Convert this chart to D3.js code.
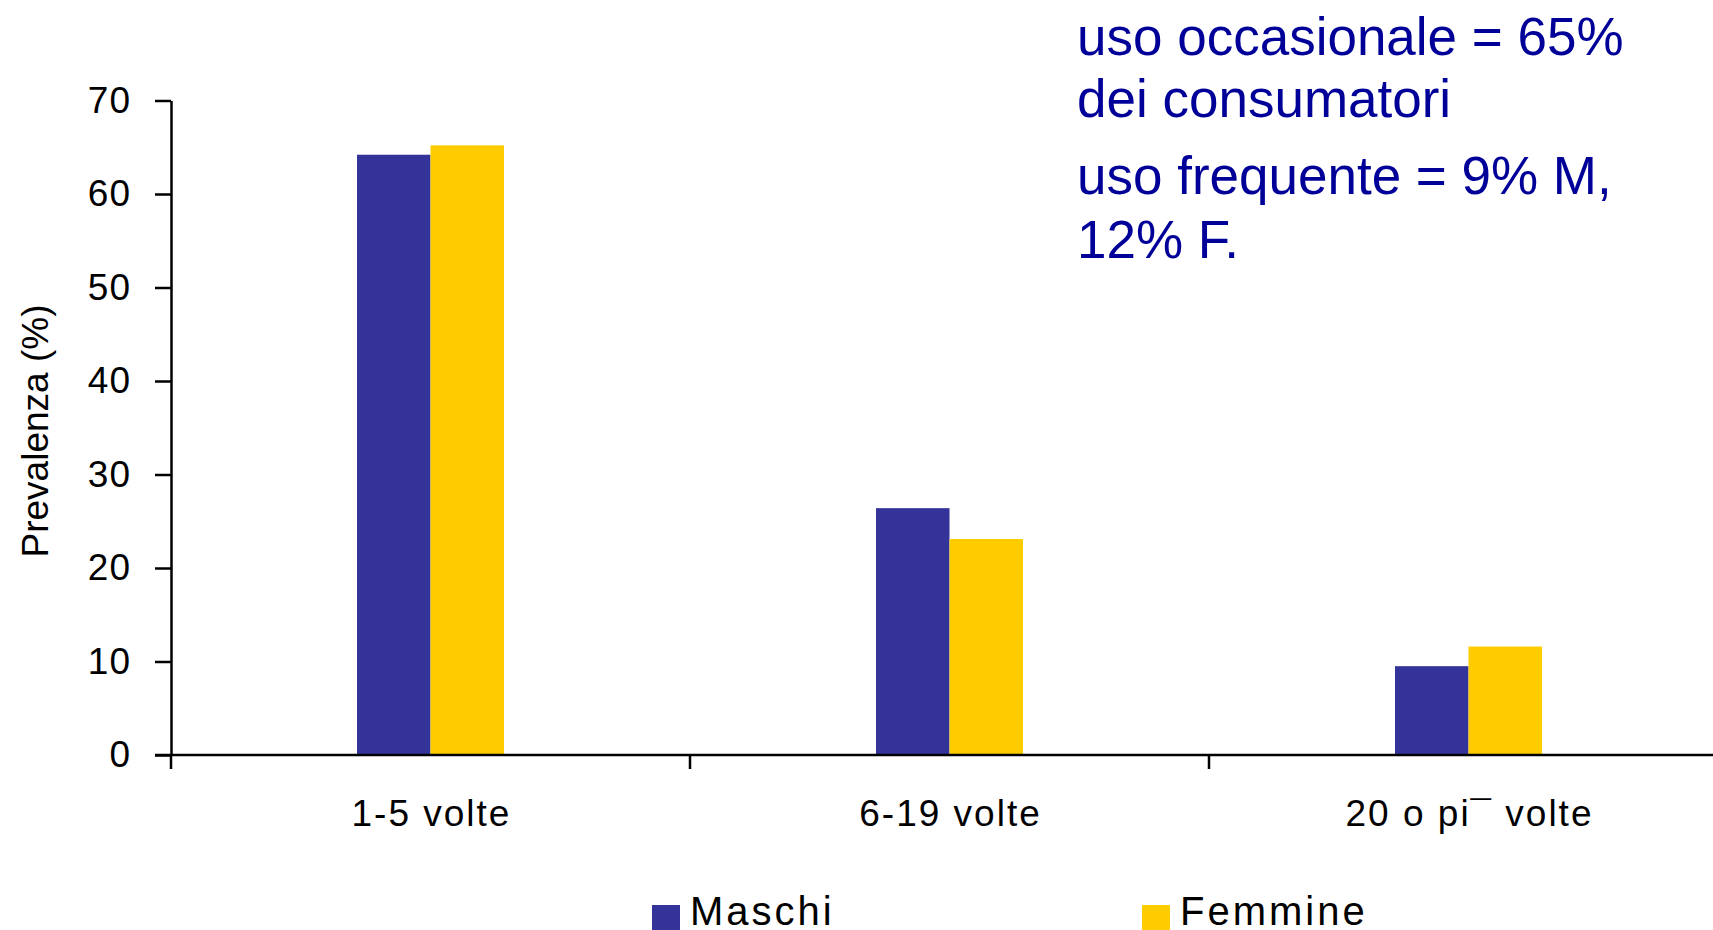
<!DOCTYPE html>
<html>
<head>
<meta charset="utf-8">
<script src="https://cdn.jsdelivr.net/npm/d3@7"></script>
<style>
  body { margin: 0; background: #fff; }
  svg { display: block; font-family: "Liberation Sans", Arial, sans-serif; }
</style>
</head>
<body>
<svg id="chart" width="1713" height="930"></svg>
<script>
// data
const categories = ["1-5 volte", "6-19 volte", "20 o pi\u00AF volte"];
const series = ["Maschi", "Femmine"];
const maschi = [64.2, 26.4, 9.5];
const femmine = [65.2, 23.1, 11.6];
const yTicks = [0, 10, 20, 30, 40, 50, 60, 70];
const notes = ["uso occasionale = 65%", "dei consumatori", "uso frequente = 9% M,", "12% F."];

const colors = { "Maschi": "#333399", "Femmine": "#FFCC00" };
const values = { "Maschi": maschi, "Femmine": femmine };

const svg = d3.select("#chart");

const plotLeft = 171, plotBottom = 755, plotTop = 100.5, bandW = 519;
const barW = 73.5;

const x = d3.scaleBand()
  .domain(categories)
  .range([plotLeft, plotLeft + bandW * categories.length]);

const xs = d3.scaleBand()
  .domain(series)
  .range([x.bandwidth() / 2 - barW, x.bandwidth() / 2 + barW]);

const y = d3.scaleLinear()
  .domain([0, 70])
  .range([plotBottom, plotTop]);

// bars
const rows = categories.map((c, i) => ({ cat: c, vals: series.map(s => ({ s: s, v: values[s][i] })) }));

svg.append("g")
  .selectAll("g")
  .data(rows)
  .enter()
  .append("g")
  .attr("transform", d => "translate(" + x(d.cat) + ",0)")
  .selectAll("rect")
  .data(d => d.vals)
  .enter()
  .append("rect")
  .attr("x", d => xs(d.s))
  .attr("width", xs.bandwidth())
  .attr("y", d => y(d.v))
  .attr("height", d => y(0) - y(d.v))
  .attr("fill", d => colors[d.s]);

// y axis
const yAxis = svg.append("g")
  .attr("transform", "translate(" + plotLeft + ",0)")
  .call(d3.axisLeft(y).tickValues(yTicks).tickSize(16).tickSizeOuter(0).tickPadding(24));
yAxis.select(".domain").attr("stroke", "#000").attr("stroke-width", 2.5);
yAxis.selectAll(".tick line").attr("stroke", "#000").attr("stroke-width", 2.5);
yAxis.selectAll(".tick text")
  .attr("font-size", 37)
  .attr("letter-spacing", 1)
  .attr("font-family", "Liberation Sans, Arial, sans-serif")
  .attr("fill", "#000");

// x axis line
svg.append("line")
  .attr("x1", plotLeft - 16).attr("x2", 1713)
  .attr("y1", y(0)).attr("y2", y(0))
  .attr("stroke", "#000").attr("stroke-width", 2.5);

// x boundary ticks
svg.append("g")
  .selectAll("line")
  .data(categories)
  .enter()
  .append("line")
  .attr("x1", d => x(d)).attr("x2", d => x(d))
  .attr("y1", y(0)).attr("y2", y(0) + 14)
  .attr("stroke", "#000").attr("stroke-width", 2.5);

// category labels
svg.append("g")
  .selectAll("text")
  .data(categories)
  .enter()
  .append("text")
  .attr("x", d => x(d) + x.bandwidth() / 2 + 1)
  .attr("y", 826)
  .attr("text-anchor", "middle")
  .attr("font-size", 37)
  .attr("letter-spacing", 2)
  .text(d => d);

// y label
svg.append("text")
  .attr("transform", "translate(48,431) rotate(-90)")
  .attr("text-anchor", "middle")
  .attr("font-size", 37)
  .text("Prevalenza (%)");

// legend
const legendX = [652, 1142];
const lg = svg.append("g")
  .selectAll("g")
  .data(series)
  .enter()
  .append("g")
  .attr("transform", (d, i) => "translate(" + legendX[i] + ",0)");
lg.append("rect")
  .attr("x", 0).attr("y", 905)
  .attr("width", 28).attr("height", 28)
  .attr("fill", d => colors[d]);
lg.append("text")
  .attr("x", 38).attr("y", 925)
  .attr("font-size", 40)
  .attr("letter-spacing", 3)
  .text(d => d);

// annotation
const noteY = [55, 117, 194, 258];
svg.append("g")
  .selectAll("text")
  .data(notes)
  .enter()
  .append("text")
  .attr("x", 1077)
  .attr("y", (d, i) => noteY[i])
  .attr("font-size", 53)
  .attr("fill", "#000099")
  .text(d => d);
</script>
</body>
</html>
